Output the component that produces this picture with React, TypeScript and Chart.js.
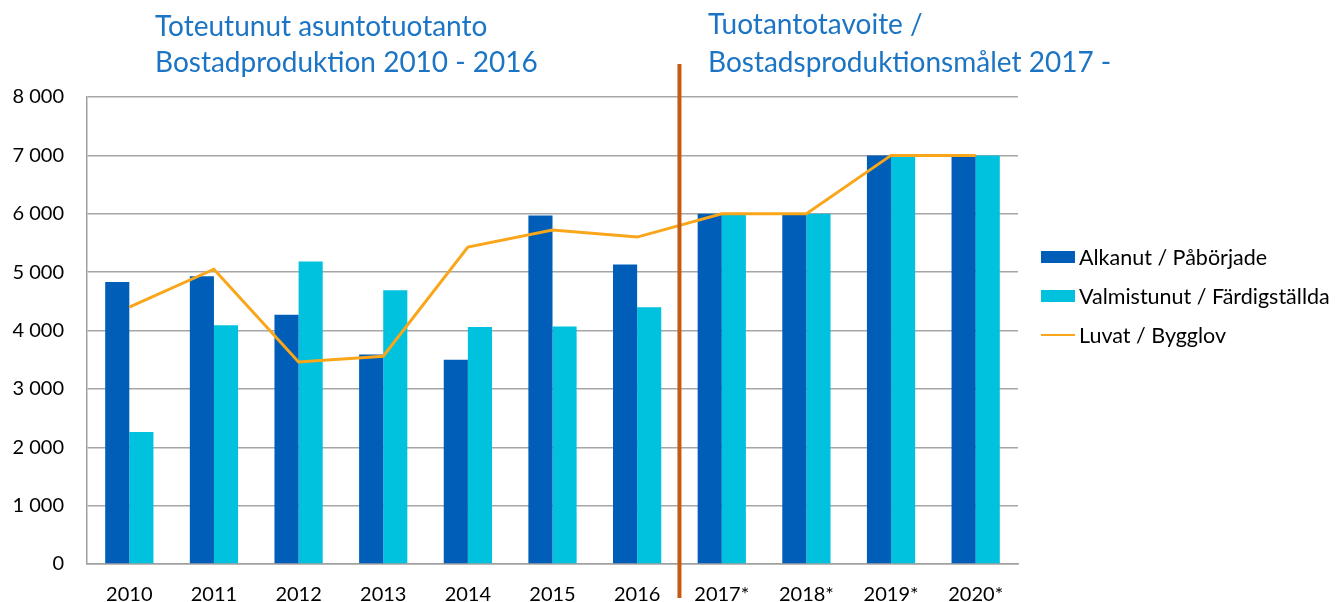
import React, { useEffect, useRef } from "react";
import { Chart, registerables } from "chart.js";

Chart.register(...registerables);

const categories = ["2010", "2011", "2012", "2013", "2014", "2015", "2016", "2017*", "2018*", "2019*", "2020*"];
const alkanut = [4830, 4930, 4270, 3590, 3500, 5970, 5130, 6000, 6000, 7000, 7000];
const valmistunut = [2260, 4090, 5180, 4690, 4060, 4070, 4400, 6000, 6000, 7000, 7000];
const luvat = [4400, 5050, 3460, 3560, 5430, 5720, 5600, 6000, 6000, 7000, 7000];
const yTicks = [0, 1000, 2000, 3000, 4000, 5000, 6000, 7000, 8000];
const titleLeft = ["Toteutunut asuntotuotanto", "Bostadproduktion 2010 - 2016"];
const titleRight = ["Tuotantotavoite /", "Bostadsproduktionsmålet 2017 -"];
const seriesLabels = ["Alkanut / Påbörjade", "Valmistunut / Färdigställda", "Luvat / Bygglov"];

const FONT = "Lato, sans-serif";
const DARK = "#005EB8";
const LIGHT = "#00C2DE";
const ORANGE = "#F9A61A";

const overlay = {
  id: "overlay",
  afterDraw(chart: any) {
    const ctx = chart.ctx;
    const x = chart.scales.x;
    ctx.save();
    ctx.fillStyle = "#1B75C4";
    ctx.font = `28px ${FONT}`;
    ctx.textBaseline = "middle";
    ctx.textAlign = "left";
    ctx.fillText(titleLeft[0], 155, 27);
    ctx.fillText(titleLeft[1], 155, 63);
    ctx.fillText(titleRight[0], 708, 25);
    ctx.fillText(titleRight[1], 708, 63);
    const sx = (x.getPixelForValue(6) + x.getPixelForValue(7)) / 2;
    ctx.strokeStyle = "#C55A11";
    ctx.lineWidth = 4;
    ctx.beginPath();
    ctx.moveTo(sx, 64);
    ctx.lineTo(sx, 598);
    ctx.stroke();
    ctx.font = `21.5px ${FONT}`;
    const ys = [257, 296, 335];
    const colors = [DARK, LIGHT, ORANGE];
    seriesLabels.forEach((lab, i) => {
      if (i < 2) {
        ctx.fillStyle = colors[i];
        ctx.fillRect(1041, ys[i] - 6, 34, 12);
      } else {
        ctx.strokeStyle = colors[i];
        ctx.lineWidth = 2;
        ctx.beginPath();
        ctx.moveTo(1041, ys[i]);
        ctx.lineTo(1075, ys[i]);
        ctx.stroke();
      }
      ctx.fillStyle = "#000";
      ctx.fillText(lab, 1079, ys[i] + 1);
    });
    ctx.restore();
  },
};

export default function App() {
  const ref = useRef<HTMLCanvasElement>(null);
  useEffect(() => {
    const chart = new Chart(ref.current!, {
      type: "bar",
      data: {
        labels: categories,
        datasets: [
          {
            type: "line",
            label: seriesLabels[2],
            data: luvat,
            borderColor: ORANGE,
            backgroundColor: ORANGE,
            borderWidth: 3,
            pointRadius: 0,
            tension: 0,
            order: 0,
          } as any,
          {
            label: seriesLabels[0],
            data: alkanut,
            backgroundColor: DARK,
            categoryPercentage: 0.57,
            barPercentage: 1,
            order: 1,
          },
          {
            label: seriesLabels[1],
            data: valmistunut,
            backgroundColor: LIGHT,
            categoryPercentage: 0.57,
            barPercentage: 1,
            order: 1,
          },
        ],
      },
      options: {
        animation: false,
        responsive: false,
        maintainAspectRatio: false,
        layout: { padding: { left: 0, top: 97, right: 323, bottom: 0 } },
        plugins: { legend: { display: false }, tooltip: { enabled: false } },
        scales: {
          x: {
            grid: { display: false, drawTicks: false },
            border: { color: "#A0A0A0", width: 1.5 },
            ticks: { color: "#000", font: { family: FONT, size: 20 }, padding: 19, maxRotation: 0 },
            afterFit: (s: any) => { s.height = 38; },
          },
          y: {
            min: 0,
            max: 8000,
            afterBuildTicks: (s: any) => { s.ticks = yTicks.map((v) => ({ value: v })); },
            grid: { color: "#A6A6A6", lineWidth: 1.5, drawTicks: false },
            border: { color: "#A0A0A0", width: 1.5 },
            ticks: {
              color: "#000",
              font: { family: FONT, size: 20 },
              padding: 23,
              callback: (v: any) => (v >= 1000 ? `${Math.floor(v / 1000)} ${String(v % 1000).padStart(3, "0")}` : String(v)),
            },
            afterFit: (s: any) => { s.width = 87; },
          },
        },
      },
      plugins: [overlay],
    });
    return () => chart.destroy();
  }, []);
  return (
    <div style={{ position: "fixed", left: 0, top: 0, width: 1341, height: 602, background: "#fff" }}>
      <canvas ref={ref} width={1341} height={602} style={{ width: 1341, height: 602 }} />
    </div>
  );
}
